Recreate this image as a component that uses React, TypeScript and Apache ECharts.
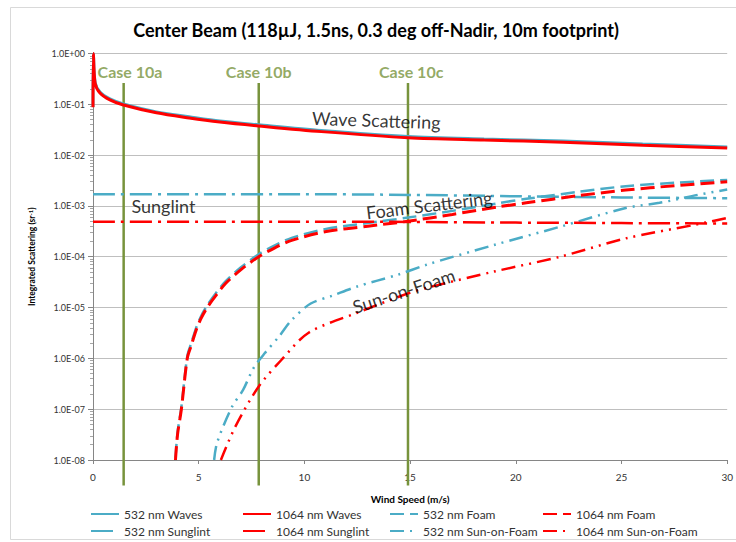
import React, { useEffect, useRef } from "react";
import * as echarts from "echarts";

// ---- data ----
const waveX = [0, 0.02, 0.1, 0.33, 0.8, 1.4, 3, 4.55, 6, 7.84, 10.8, 14.9, 18.5, 22.25, 26, 30];
const wave532 = [0.09, 1.0, 0.27, 0.175, 0.128, 0.103, 0.071, 0.057, 0.047, 0.0395, 0.0305, 0.0232, 0.0207, 0.0189, 0.0165, 0.0145];
const wave1064 = [0.088, 1.0, 0.26, 0.167, 0.122, 0.098, 0.068, 0.054, 0.045, 0.0376, 0.029, 0.022, 0.0198, 0.018, 0.0157, 0.0138];

const foamX = [3.9, 4.0, 4.18, 4.46, 4.65, 4.87, 5.1, 5.4, 5.8, 6.28, 7.0, 7.84, 8.6, 9.4, 10.97, 13, 14.9, 17, 19.1, 20.5, 23, 25.2, 27.5, 30];
const foam532 = [1.1e-8, 3.5e-8, 1.1e-7, 1.1e-6, 2.0e-6, 3.9e-6, 6.6e-6, 1.1e-5, 1.9e-5, 3.3e-5, 6.2e-5, 1.12e-4, 1.67e-4, 2.35e-4, 3.5e-4, 4.6e-4, 5.9e-4, 8.0e-4, 1.12e-3, 1.38e-3, 1.9e-3, 2.45e-3, 2.85e-3, 3.25e-3];
const foam1064 = [1e-8, 3.2e-8, 1e-7, 1e-6, 1.8e-6, 3.5e-6, 6.0e-6, 1.0e-5, 1.7e-5, 3.0e-5, 5.6e-5, 1.0e-4, 1.5e-4, 2.1e-4, 3.1e-4, 4.0e-4, 5.0e-4, 6.8e-4, 9.5e-4, 1.15e-3, 1.6e-3, 2.05e-3, 2.5e-3, 3.0e-3];

const sunglintX = [0, 5, 10, 15, 20, 25, 30];
const sunglint532 = [1.7e-3, 1.7e-3, 1.7e-3, 1.65e-3, 1.55e-3, 1.47e-3, 1.42e-3];
const sunglint1064 = [4.9e-4, 4.9e-4, 4.9e-4, 4.85e-4, 4.7e-4, 4.6e-4, 4.5e-4];

const sof532X = [5.73, 5.87, 6.57, 7.1, 7.6, 8.15, 8.8, 9.4, 10.3, 11.3, 12.5, 14.4, 15.8, 18.96, 22.1, 25.2, 26.8, 28.6, 30];
const sof532 = [1e-8, 2.2e-8, 1.1e-7, 2.4e-7, 6.5e-7, 1.3e-6, 2.7e-6, 5.7e-6, 1.2e-5, 1.7e-5, 2.6e-5, 4.4e-5, 7e-5, 1.7e-4, 3.9e-4, 9.1e-4, 1.15e-3, 1.65e-3, 2.1e-3];
const sof1064X = [6.05, 6.74, 7.84, 8.92, 10.2, 12.5, 14.9, 15.8, 18.96, 22.1, 25.2, 28.4, 30];
const sof1064 = [1e-8, 4.6e-8, 2.8e-7, 9.4e-7, 3.2e-6, 7.9e-6, 1.9e-5, 2.45e-5, 5.1e-5, 1.0e-4, 2.3e-4, 4.2e-4, 5.8e-4];

const caseNames = ["Case 10a", "Case 10b", "Case 10c"];
const caseX = [1.45, 7.84, 14.9];
const caseTop = 0.263;
const caseBottom = 3.16e-9;
const caseLabelX = [1.75, 7.84, 15.05];
const caseLabelY = 0.45;

const curveLabels = ["Wave Scattering", "Sunglint", "Foam Scattering", "Sun-on-Foam"];
const curveLabelX = [13.4, 3.33, 15.9, 14.7];
const curveLabelY = [0.049, 1.0e-3, 1.05e-3, 2.14e-5];
const curveLabelRotate = [-2, 0, 7, 18];

const yTickLabels = ["1.0E-08", "1.0E-07", "1.0E-06", "1.0E-05", "1.0E-04", "1.0E-03", "1.0E-02", "1.0E-01", "1.0E+00"];
const xTicks = [0, 5, 10, 15, 20, 25, 30];

const titleText = "Center Beam (118\u00B5J, 1.5ns, 0.3 deg off-Nadir, 10m footprint)";

const BLUE = "#4BACC6";
const RED = "#FF0000";
const GREEN = "#77933C";
const FONT = "Lato, 'Open Sans', sans-serif";

const pairs = (xs: number[], ys: number[]) => xs.map((x, i) => [x, ys[i]]);

const DASH = [14, 6];
const DASHDOT = [22, 6, 3, 6];
const DASHDOTDOT = [14, 6, 2, 6, 2, 6];

function lineSeries(name: string, xs: number[], ys: number[], color: string, type: any, width: number, z: number) {
  return {
    name,
    type: "line",
    data: pairs(xs, ys),
    showSymbol: false,
    symbol: "none",
    smooth: 0.3,
    z,
    lineStyle: { color, width, type, cap: "butt" },
    itemStyle: { color },
    silent: true,
  };
}

export default function App() {
  const ref = useRef<HTMLDivElement>(null);
  useEffect(() => {
    if (!ref.current) return;
    const chart = echarts.init(ref.current, undefined, { renderer: "svg" });

    const legendCols = [
      ["532 nm Waves", "532 nm Sunglint"],
      ["1064 nm Waves", "1064 nm Sunglint"],
      ["532 nm Foam", "532 nm Sun-on-Foam"],
      ["1064 nm Foam", "1064 nm Sun-on-Foam"],
    ];
    const legendLeft = [90, 242, 389, 542];

    const series: any[] = [];
    caseX.forEach((x, i) => {
      series.push({
        name: caseNames[i],
        type: "line",
        data: [[x, caseTop], [x, caseBottom]],
        showSymbol: false,
        symbol: "none",
        clip: false,
        z: 1,
        silent: true,
        lineStyle: { color: GREEN, width: 2.5 },
      });
    });
    series.push(lineSeries("532 nm Waves", waveX, wave532, BLUE, "solid", 3, 2));
    series.push(lineSeries("1064 nm Waves", waveX, wave1064, RED, "solid", 3, 3));
    series.push(lineSeries("532 nm Foam", foamX, foam532, BLUE, DASH, 2.5, 2));
    series.push(lineSeries("1064 nm Foam", foamX, foam1064, RED, DASH, 3, 3));
    series.push(lineSeries("532 nm Sunglint", sunglintX, sunglint532, BLUE, DASHDOT, 2.5, 2));
    series.push(lineSeries("1064 nm Sunglint", sunglintX, sunglint1064, RED, DASHDOT, 2.5, 3));
    series.push(lineSeries("532 nm Sun-on-Foam", sof532X, sof532, BLUE, DASHDOTDOT, 2.5, 2));
    series.push(lineSeries("1064 nm Sun-on-Foam", sof1064X, sof1064, RED, DASHDOTDOT, 2.5, 3));

    // case labels
    series.push({
      type: "scatter",
      silent: true,
      symbolSize: 0,
      z: 5,
      clip: false,
      data: caseNames.map((n, i) => ({ name: n, value: [caseLabelX[i], caseLabelY] })),
      label: {
        show: true,
        position: "inside",
        formatter: (p: any) => p.name,
        color: GREEN,
        fontFamily: FONT,
        fontWeight: "bold",
        fontSize: 16,
      },
    });
    // curve labels
    series.push({
      type: "scatter",
      silent: true,
      symbolSize: 0,
      z: 5,
      data: curveLabels.map((n, i) => ({
        name: n,
        value: [curveLabelX[i], curveLabelY[i]],
        label: { rotate: curveLabelRotate[i] },
      })),
      label: {
        show: true,
        position: "inside",
        formatter: (p: any) => p.name,
        color: "#000",
        fontFamily: FONT,
        fontSize: 18,
      },
    });

    chart.setOption({
      animation: false,
      backgroundColor: "#fff",
      textStyle: { fontFamily: FONT },
      graphic: [
        {
          type: "rect",
          shape: { x: 10.5, y: 7.5, width: 740, height: 532 },
          style: { fill: "none", stroke: "#D9D9D9", lineWidth: 1 },
          silent: true,
          z: -10,
        },
        {
          type: "text",
          x: 376,
          y: 30,
          style: {
            text: titleText,
            fontFamily: FONT,
            fontWeight: "bold",
            fontSize: 18,
            fill: "#000",
            textAlign: "center",
            textVerticalAlign: "middle",
          },
          silent: true,
        },
      ],
      legend: legendCols.map((col, i) => ({
        data: col,
        orient: "vertical",
        left: legendLeft[i],
        top: 508,
        itemWidth: 28,
        itemHeight: 12,
        itemGap: 5,
        padding: 0,
        selectedMode: false,
        itemStyle: { color: "transparent", borderWidth: 0, opacity: 0 },
        textStyle: { fontFamily: FONT, fontSize: 12, color: "#333" },
      })),
      grid: { left: 93, right: 4, top: 53.5, bottom: 82, containLabel: false },
      xAxis: {
        type: "value",
        min: xTicks[0],
        max: xTicks[xTicks.length - 1],
        interval: 5,
        name: "Wind Speed (m/s)",
        nameLocation: "middle",
        nameGap: 34,
        nameTextStyle: { fontFamily: FONT, fontWeight: "bold", fontSize: 10, color: "#000" },
        axisLine: { show: true, lineStyle: { color: "#868686", width: 1 } },
        axisTick: { show: true, length: 4, lineStyle: { color: "#868686" } },
        axisLabel: { fontFamily: FONT, fontSize: 10, color: "#333", margin: 12 },
        splitLine: { show: false },
      },
      yAxis: {
        type: "log",
        logBase: 10,
        min: 1e-8,
        max: 1,
        splitNumber: 8,
        name: "{a|Integrated Scattering (sr}{s|-1}{a|)}",
        nameLocation: "middle",
        nameRotate: 90,
        nameGap: 56,
        nameTextStyle: {
          rich: {
            a: { fontFamily: FONT, fontWeight: "bold", fontSize: 8.5, color: "#000" },
            s: { fontFamily: FONT, fontWeight: "bold", fontSize: 6, color: "#000", verticalAlign: "top", padding: [0, 0, 4, 0] },
          },
        },
        axisLine: { show: true, lineStyle: { color: "#868686", width: 1 } },
        axisTick: { show: true, length: 5, lineStyle: { color: "#868686" } },
        minorTick: { show: true, splitNumber: 9, length: 3, lineStyle: { color: "#A6A6A6" } },
        axisLabel: {
          fontFamily: FONT,
          fontSize: 9,
          color: "#333",
          margin: 8,
          formatter: (v: number) => yTickLabels[Math.round(Math.log10(v)) + 8],
        },
        splitLine: { show: true, lineStyle: { color: "#BFBFBF", width: 1 } },
      },
      series,
    });
    return () => chart.dispose();
  }, []);
  return (
    <div
      ref={ref}
      style={{ position: "absolute", left: 0, top: 0, width: 736, height: 542, background: "#fff" }}
    />
  );
}
